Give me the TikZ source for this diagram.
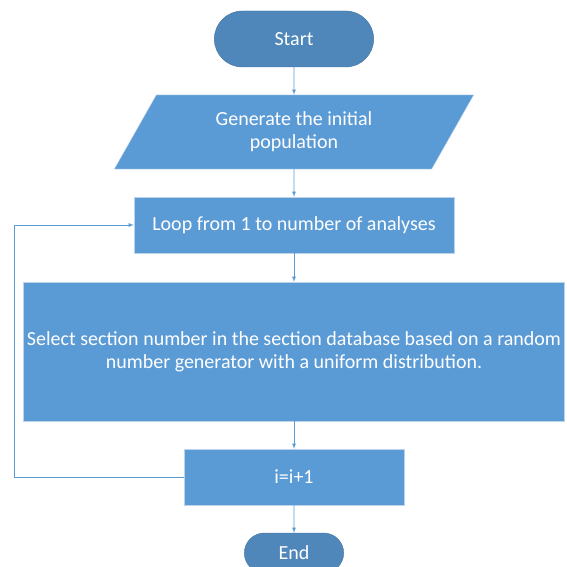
\documentclass[tikz,border=0pt]{standalone}
\usepackage{fontspec}
\setmainfont{Carlito}
\usetikzlibrary{shapes.misc,shapes.geometric}
\definecolor{boxblue}{HTML}{5B9BD5}
\definecolor{termblue}{HTML}{4F87BB}
\definecolor{termedge}{HTML}{41719C}
\definecolor{boxedge}{HTML}{BDD3EA}
\begin{document}
\begin{tikzpicture}[x=1pt, y=-1pt,
    terminal/.style={rounded rectangle, draw=termedge, fill=termblue, text=white, minimum width=166pt, minimum height=56pt, font=\fontsize{20}{23}\selectfont},
    process/.style={rectangle, draw=boxedge, fill=boxblue, text=white, align=center, font=\fontsize{20}{23}\selectfont},
    inout/.style={trapezium, trapezium left angle=62, trapezium right angle=118, trapezium stretches=true, draw=boxedge, fill=boxblue, text=white, align=center, font=\fontsize{20}{23}\selectfont},
    arrow/.style={->, >=latex, draw=boxblue, thick}
]
    \useasboundingbox (0,0) rectangle (566,567);

    % Terminals
    \node[terminal] (start) at (294, 39) {Start};
    \node[terminal, minimum width=106pt, minimum height=40pt] (end) at (294, 553) {End};

    % Input and process boxes
    \node[inout, minimum width=360pt, minimum height=74pt] (init) at (294, 132) {Generate the initial\\population};
    \node[process, minimum width=320pt, minimum height=56pt] (loop) at (294, 225) {Loop from 1 to number of analyses};
    \node[process, minimum width=538pt, minimum height=139pt] (select) at (294, 351.5) {Select section number in the section database based on a random\\number generator with a uniform distribution.};
    \node[process, minimum width=220pt, minimum height=56pt] (incr) at (294, 477) {i=i+1};

    % Return path
    \coordinate (back) at (14, 477);

    % Arrows
    \draw[arrow] (start) -- (init);
    \draw[arrow] (init) -- (loop);
    \draw[arrow] (loop) -- (select);
    \draw[arrow] (select) -- (incr);
    \draw[arrow] (incr) -- (end);
    \draw[arrow] (incr.west) -- (back) |- (loop.west);
\end{tikzpicture}
\end{document}
